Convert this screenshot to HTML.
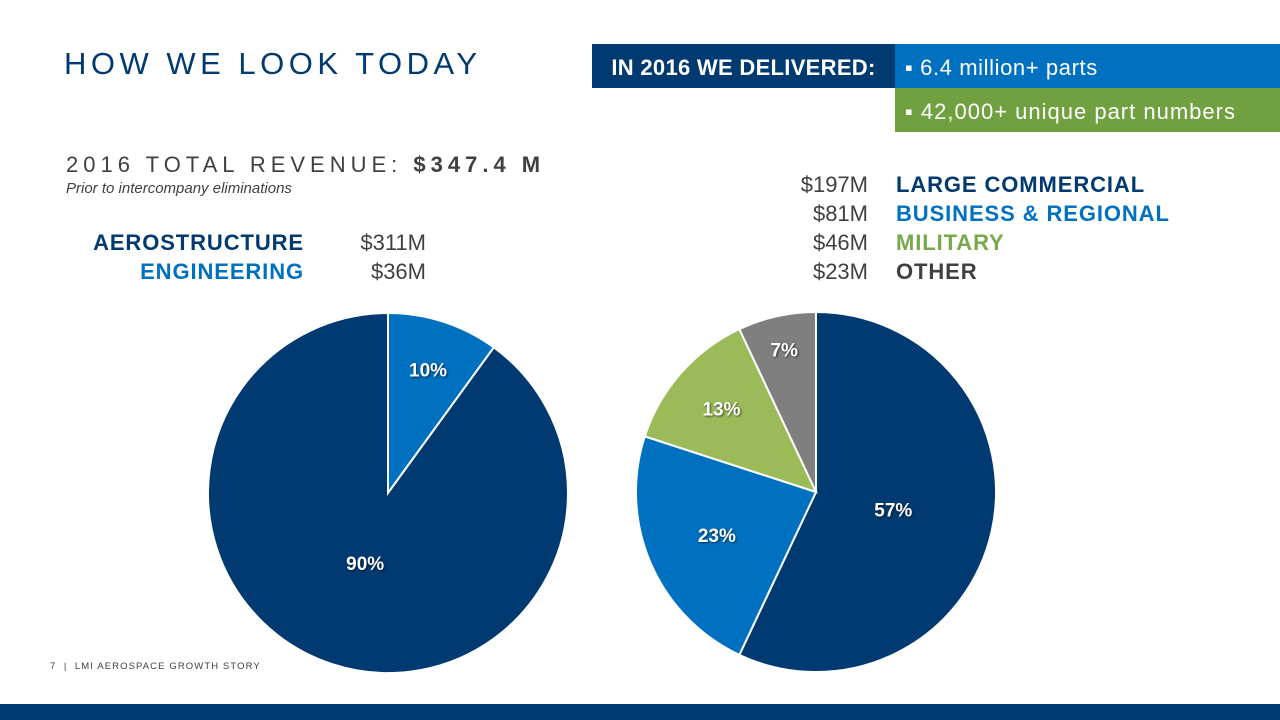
<!DOCTYPE html>
<html><head><meta charset="utf-8">
<style>
body{margin:0;width:1280px;height:720px;background:#fff;position:relative;overflow:hidden;font-family:"Liberation Sans",sans-serif}
.a{position:absolute;white-space:nowrap}
.lg{font-size:22px;font-weight:bold;letter-spacing:0.9px}
.v{font-size:22px;color:#404040}
</style></head>
<body>
<div class="a" style="left:64px;top:46px;font-size:31px;letter-spacing:4.5px;color:#003A70">HOW WE LOOK TODAY</div>
<div class="a" style="left:592px;top:44px;width:303px;height:44px;background:#003A70;color:#fff;font-weight:bold;font-size:22px;line-height:48px;text-align:center;letter-spacing:0.3px">IN 2016 WE DELIVERED:</div>
<div class="a" style="left:895px;top:44px;width:385px;height:44px;background:#0070C0;color:#fff;font-size:22px;line-height:48px;padding-left:10px;box-sizing:border-box;letter-spacing:0.6px">▪ 6.4 million+ parts</div>
<div class="a" style="left:895px;top:88px;width:385px;height:44px;background:#70A040;color:#fff;font-size:22px;line-height:48px;padding-left:10px;box-sizing:border-box;letter-spacing:1px">▪ 42,000+ unique part numbers</div>
<div class="a" style="left:66px;top:152px;font-size:22px;letter-spacing:5.0px;color:#404040">2016 TOTAL REVENUE: <b>$347.4 M</b></div>
<div class="a" style="left:66px;top:180px;font-size:15px;font-style:italic;color:#404040">Prior to intercompany eliminations</div>
<div class="a lg" style="right:976px;top:230px;color:#003A70">AEROSTRUCTURE</div>
<div class="a lg" style="right:976px;top:259px;color:#0070C0">ENGINEERING</div>
<div class="a v" style="right:854px;top:230px">$311M</div>
<div class="a v" style="right:854px;top:259px">$36M</div>
<div class="a v" style="right:412px;top:172px">$197M</div>
<div class="a v" style="right:412px;top:201px">$81M</div>
<div class="a v" style="right:412px;top:230px">$46M</div>
<div class="a v" style="right:412px;top:259px">$23M</div>
<div class="a lg" style="left:896px;top:172px;color:#003A70">LARGE COMMERCIAL</div>
<div class="a lg" style="left:896px;top:201px;color:#0070C0">BUSINESS &amp; REGIONAL</div>
<div class="a lg" style="left:896px;top:230px;color:#77A84A">MILITARY</div>
<div class="a lg" style="left:896px;top:259px;color:#404040">OTHER</div>
<div class="a" style="left:50px;top:661px;font-size:9.5px;letter-spacing:1.1px;color:#404040">7 &nbsp;| &nbsp;LMI AEROSPACE GROWTH STORY</div>
<div class="a" style="left:0;top:704px;width:1280px;height:16px;background:#003A70"></div>
<svg class="a" style="left:0;top:0" width="1280" height="720" id="svg"></svg>
<script>
const seg1Names=["engineering","aerostructure"];
const seg1Values=[10,90];
const seg1Labels=["10%","90%"];
const seg2Names=["large-commercial","business-regional","military","other"];
const seg2Values=[57,23,13,7];
const seg2Labels=["57%","23%","13%","7%"];
const svg=document.getElementById('svg');
const NS='http://www.w3.org/2000/svg';
function pie(cx,cy,r,vals,labels,names,colors,lr,prefix){
  const tot=vals.reduce((a,b)=>a+b,0);let a0=0;
  vals.forEach((v,i)=>{
    const a1=a0+v/tot*2*Math.PI;
    const x0=cx+r*Math.sin(a0),y0=cy-r*Math.cos(a0),x1=cx+r*Math.sin(a1),y1=cy-r*Math.cos(a1);
    const p=document.createElementNS(NS,'path');
    p.setAttribute('d',`M${cx},${cy}L${x0},${y0}A${r},${r} 0 ${a1-a0>Math.PI?1:0} 1 ${x1},${y1}Z`);
    p.setAttribute('fill',colors[i]);p.setAttribute('stroke','#fff');p.setAttribute('stroke-width','2');
    
    
    svg.appendChild(p);
    const m=(a0+a1)/2,rr=r*lr[i];
    const t=document.createElementNS(NS,'text');
    t.setAttribute('x',cx+rr*Math.sin(m));t.setAttribute('y',cy-rr*Math.cos(m)+7);
    t.setAttribute('text-anchor','middle');t.setAttribute('font-size','19');t.setAttribute('font-weight','bold');
    t.setAttribute('fill','#fff');t.setAttribute('font-family','Liberation Sans, sans-serif');
    t.setAttribute('style','text-shadow:1px 1px 2px rgba(0,0,0,.6)');
    t.textContent=labels[i];
    
    
    svg.appendChild(t);
    a0=a1;
  });
}
pie(388,493,180,seg1Values,seg1Labels,seg1Names,["#0070C0","#003A70"],[0.72,0.41],'segment-pie');
pie(816,492,180,seg2Values,seg2Labels,seg2Names,["#003A70","#0070C0","#9BBB59","#7F7F7F"],[0.44,0.6,0.7,0.81],'market-pie');
</script>
</body></html>
